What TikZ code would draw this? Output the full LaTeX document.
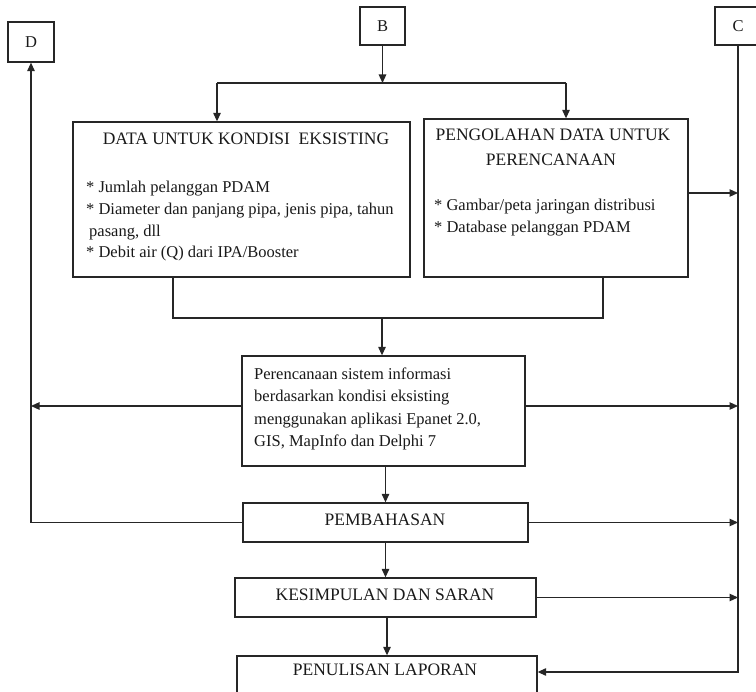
\documentclass[tikz,border=0pt]{standalone}
\usepackage{fontspec}
\setmainfont{Liberation Serif}
\usetikzlibrary{arrows.meta}
\begin{document}
\begin{tikzpicture}[x=1pt,y=-1pt,
  txt/.style={font=\fontsize{16.5}{20}\selectfont, text=black!90},
  box/.style={draw=black!85, line width=1.3pt, rectangle, inner sep=0pt, txt},
  lbl/.style={txt, inner sep=0pt},
  ttl/.style={lbl, font=\fontsize{17.5}{20}\selectfont},
  link/.style={draw=black!85, line width=1.2pt},
  arr/.style={link, -{Triangle[length=8.5pt,width=7.5pt]}}]
\useasboundingbox (0,0) rectangle (756,692);

% connector boxes
\node[box, minimum width=46pt, minimum height=40pt] (D) at (31,42) {D};
\node[box, minimum width=45pt, minimum height=38pt] (B) at (382.5,26) {B};
\node[box, minimum width=46pt, minimum height=38pt] (C) at (738,26) {C};

% process boxes
\node[box, minimum width=337pt, minimum height=155pt] (dk) at (241.5,199.5) {};
\node[box, minimum width=264pt, minimum height=158pt] (pd) at (556,198) {};
\node[box, minimum width=283pt, minimum height=110pt] (plan) at (383.5,411) {};
\node[box, minimum width=285pt, minimum height=39pt] (pemb) at (385.5,522.5) {};
\node[box, minimum width=301pt, minimum height=39pt] (kes) at (385.5,597.5) {};
\node[box, minimum width=300pt, minimum height=50pt] (pen) at (387,681) {};

% existing-condition data
\node[ttl, anchor=base] (dkT) at (246,145) {DATA UNTUK KONDISI\ \ EKSISTING};
\node[lbl, anchor=base west] (dk1) at (86,193) {* Jumlah pelanggan PDAM};
\node[lbl, anchor=base west] (dk2) at (86,215) {* Diameter\ dan panjang pipa, jenis pipa, tahun};
\node[lbl, anchor=base west] (dk3) at (89,237) {pasang, dll};
\node[lbl, anchor=base west] (dk4) at (86,258) {* Debit air (Q) dari IPA/Booster};

% planning data processing
\node[ttl, anchor=base] (pdT1) at (553,141) {PENGOLAHAN DATA UNTUK};
\node[ttl, anchor=base] (pdT2) at (551,166) {PERENCANAAN};
\node[lbl, anchor=base west] (pd1) at (434,211) {* Gambar/peta jaringan distribusi};
\node[lbl, anchor=base west] (pd2) at (434,233) {* Database pelanggan PDAM};

% information system planning
\node[lbl, anchor=base west] (pl1) at (254,380) {Perencanaan sistem informasi};
\node[lbl, anchor=base west] (pl2) at (254,402) {berdasarkan kondisi eksisting};
\node[lbl, anchor=base west] (pl3) at (254,425) {menggunakan aplikasi Epanet 2.0,};
\node[lbl, anchor=base west] (pl4) at (254,447) {GIS, MapInfo dan Delphi 7};

% final steps
\node[ttl, anchor=base] (pembT) at (385,526) {PEMBAHASAN};
\node[ttl, anchor=base] (kesT) at (385,601) {KESIMPULAN DAN SARAN};
\node[ttl, anchor=base] (penT) at (385,676) {PENULISAN LAPORAN};

% split below B
\coordinate (bmid) at (382.5,83);
\coordinate (bl) at (217,83);
\coordinate (br) at (566,83);
\draw[arr] (B.south) -- (bmid);
\draw[link] (bl) -- (br);
\draw[arr] (bl) -- (bl |- dk.north);
\draw[arr] (br) -- (br |- pd.north);

% join of both data boxes
\coordinate (jl) at (173,318);
\coordinate (jr) at (603,318);
\coordinate (jm) at (382,318);
\draw[link] (jl |- dk.south) -- (jl) -- (jr) -- (jr |- pd.south);
\draw[arr] (jm) -- (jm |- plan.north);

% main chain
\draw[arr] (pemb.north |- plan.south) -- (pemb.north);
\draw[arr] (kes.north |- pemb.south) -- (kes.north);
\draw[arr] (pen.north |- kes.south) -- (pen.north);

% line C on the right
\coordinate (cEnd) at (738,672);
\coordinate (c1) at (738,193);
\coordinate (c2) at (738,406);
\draw[arr] (C.south) -- (cEnd) -- (cEnd -| pen.east);
\draw[arr] (c1 -| pd.east) -- (c1);
\draw[arr] (c2 -| plan.east) -- (c2);
\draw[arr] (pemb.east) -- (pemb.east -| C.south);
\draw[arr] (kes.east) -- (kes.east -| C.south);

% line D on the left
\coordinate (d1) at (31,406);
\draw[arr] (d1 -| plan.west) -- (d1);
\draw[arr] (pemb.west) -- (pemb.west -| D.south) -- (D.south);
\end{tikzpicture}
\end{document}
